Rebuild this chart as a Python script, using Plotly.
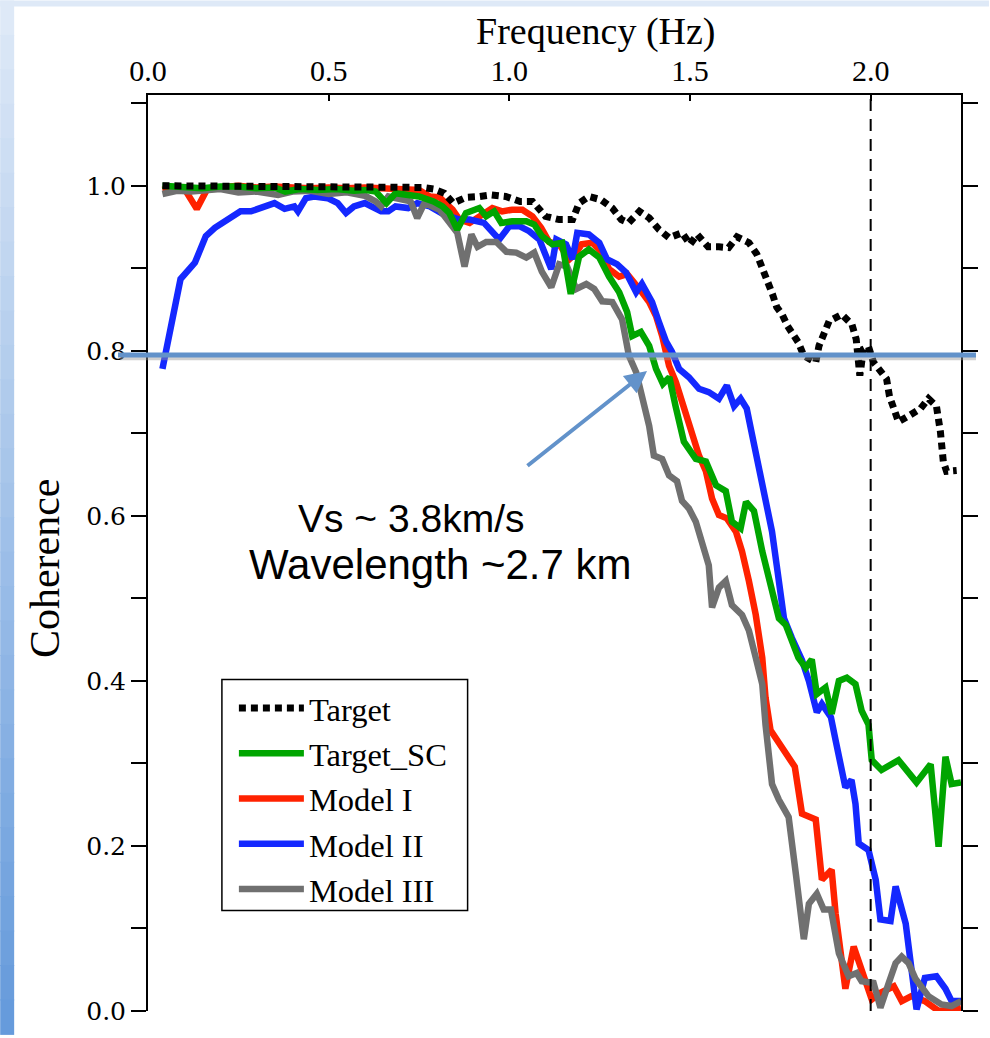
import plotly.graph_objects as go

# ---------------- data ----------------
target_f = [0.04, 0.1, 0.16, 0.22, 0.28, 0.34, 0.4, 0.46, 0.52, 0.58, 0.64, 0.7, 0.76, 0.79, 0.82, 0.845,
            0.88, 0.917, 0.95, 0.99, 1.03, 1.064, 1.10, 1.138, 1.175, 1.193, 1.22, 1.254, 1.285, 1.31, 1.33,
            1.36, 1.387, 1.414, 1.442, 1.478, 1.50, 1.52, 1.55, 1.58, 1.607, 1.63, 1.663, 1.685, 1.70, 1.715,
            1.728, 1.74, 1.755, 1.77, 1.785, 1.80, 1.815, 1.848, 1.857, 1.87, 1.885, 1.92, 1.948, 1.96, 1.97,
            1.98, 1.994, 2.008, 2.044, 2.052, 2.077, 2.105, 2.138, 2.16, 2.182, 2.193, 2.201, 2.21, 2.238]
target_v = [1.0, 1.0, 1.0, 1.0, 1.0, 1.0, 1.0, 0.999, 1.0, 0.999, 0.999, 0.999, 0.998, 0.996, 0.991, 0.979,
            0.986, 0.987, 0.989, 0.987, 0.981, 0.981, 0.963, 0.959, 0.959, 0.979, 0.987, 0.983, 0.973, 0.959, 0.955,
            0.969, 0.961, 0.947, 0.937, 0.943, 0.929, 0.941, 0.926, 0.926, 0.925, 0.938, 0.931, 0.917, 0.901, 0.887,
            0.869, 0.853, 0.844, 0.83, 0.82, 0.81, 0.794, 0.786, 0.806, 0.823, 0.836, 0.844, 0.832, 0.814, 0.77,
            0.802, 0.805, 0.786, 0.766, 0.745, 0.714, 0.721, 0.730, 0.742, 0.733, 0.702, 0.666, 0.654, 0.655]

sc_f = [0.04, 0.1, 0.15, 0.2, 0.25, 0.3, 0.35, 0.38, 0.42, 0.47, 0.52, 0.57, 0.6, 0.63, 0.66, 0.685, 0.72,
        0.75, 0.79, 0.815, 0.834, 0.856, 0.88, 0.917, 0.936, 0.958, 0.978, 1.008, 1.047, 1.069, 1.09, 1.119,
        1.146, 1.17, 1.193, 1.22, 1.249, 1.276, 1.304, 1.326, 1.34, 1.364, 1.387, 1.406, 1.425, 1.443, 1.46,
        1.483, 1.516, 1.544, 1.572, 1.599, 1.616, 1.64, 1.655, 1.677, 1.70, 1.727, 1.746, 1.765, 1.782, 1.80,
        1.82, 1.837, 1.851, 1.875, 1.892, 1.912, 1.934, 1.958, 1.975, 1.994, 2.003, 2.03, 2.077, 2.097, 2.127,
        2.166, 2.188, 2.207, 2.224, 2.25]
sc_v = [1.0, 0.999, 0.997, 0.999, 0.999, 0.997, 0.998, 0.993, 0.996, 0.995, 0.996, 0.994, 0.995, 0.993, 0.979,
        0.991, 0.989, 0.987, 0.981, 0.975, 0.967, 0.947, 0.967, 0.973, 0.963, 0.969, 0.955, 0.957, 0.957, 0.953,
        0.939, 0.929, 0.931, 0.869, 0.914, 0.923, 0.913, 0.890, 0.871, 0.847, 0.818, 0.823, 0.806, 0.778, 0.76,
        0.768, 0.733, 0.69, 0.669, 0.666, 0.637, 0.63, 0.593, 0.585, 0.617, 0.606, 0.557, 0.509, 0.476, 0.468,
        0.449, 0.428, 0.416, 0.426, 0.384, 0.392, 0.36, 0.40, 0.404, 0.396, 0.364, 0.347, 0.304, 0.292, 0.304,
        0.292, 0.277, 0.299, 0.199, 0.308, 0.275, 0.277]

m1_f = [0.04, 0.07, 0.10, 0.135, 0.165, 0.2, 0.25, 0.3, 0.35, 0.4, 0.45, 0.5, 0.55, 0.6, 0.65, 0.7, 0.75, 0.78,
        0.807, 0.843, 0.862, 0.89, 0.917, 0.953, 0.98, 1.008, 1.036, 1.064, 1.088, 1.11, 1.138, 1.166, 1.185,
        1.20, 1.23, 1.254, 1.276, 1.304, 1.326, 1.351, 1.367, 1.387, 1.406, 1.423, 1.442, 1.461, 1.478, 1.503,
        1.525, 1.544, 1.561, 1.58, 1.602, 1.627, 1.644, 1.663, 1.682, 1.70, 1.709, 1.723, 1.754, 1.79, 1.81,
        1.848, 1.865, 1.892, 1.903, 1.92, 1.93, 1.953, 1.975, 2.003, 2.027, 2.064, 2.086, 2.113, 2.15, 2.188,
        2.224, 2.25]
m1_v = [0.995, 0.998, 0.997, 0.972, 0.997, 0.999, 1.0, 0.998, 0.999, 0.998, 0.997, 0.998, 0.997, 0.998, 0.997,
        0.996, 0.995, 0.987, 0.986, 0.971, 0.959, 0.955, 0.963, 0.973, 0.969, 0.971, 0.971, 0.963, 0.949, 0.932,
        0.929, 0.911, 0.919, 0.929, 0.931, 0.92, 0.899, 0.890, 0.893, 0.881, 0.871, 0.859, 0.842, 0.818, 0.782,
        0.762, 0.738, 0.706, 0.673, 0.654, 0.621, 0.601, 0.597, 0.581, 0.557, 0.521, 0.480, 0.428, 0.38, 0.34,
        0.320, 0.296, 0.239, 0.232, 0.159, 0.171, 0.118, 0.058, 0.027, 0.078, 0.05, 0.014, 0.022, 0.030, 0.012,
        0.018, 0.012, 0.0, 0.002, 0.004]

m2_f = [0.04, 0.09, 0.13, 0.16, 0.185, 0.22, 0.256, 0.285, 0.315, 0.35, 0.378, 0.405, 0.415, 0.437, 0.46,
        0.497, 0.525, 0.548, 0.57, 0.60, 0.645, 0.665, 0.685, 0.72, 0.745, 0.78, 0.82, 0.862, 0.89, 0.93, 0.972,
        1.0, 1.028, 1.055, 1.083, 1.116, 1.13, 1.157, 1.175, 1.188, 1.22, 1.249, 1.27, 1.298, 1.323, 1.351,
        1.367, 1.395, 1.414, 1.434, 1.45, 1.47, 1.497, 1.525, 1.552, 1.58, 1.602, 1.622, 1.64, 1.657, 1.671,
        1.69, 1.709, 1.727, 1.74, 1.751, 1.76, 1.782, 1.81, 1.829, 1.851, 1.865, 1.89, 1.903, 1.92, 1.93, 1.947,
        1.958, 1.967, 1.994, 2.014, 2.027, 2.055, 2.069, 2.097, 2.127, 2.15, 2.182, 2.207, 2.224, 2.25]
m2_v = [0.778, 0.887, 0.907, 0.939, 0.949, 0.959, 0.969, 0.969, 0.973, 0.979, 0.972, 0.975, 0.969, 0.985, 0.987,
        0.985, 0.979, 0.967, 0.975, 0.979, 0.969, 0.969, 0.975, 0.973, 0.979, 0.975, 0.965, 0.959, 0.959, 0.955,
        0.935, 0.951, 0.951, 0.945, 0.935, 0.899, 0.935, 0.929, 0.911, 0.943, 0.941, 0.931, 0.911, 0.905, 0.895,
        0.871, 0.881, 0.859, 0.835, 0.811, 0.799, 0.778, 0.768, 0.754, 0.75, 0.742, 0.758, 0.733, 0.742, 0.730,
        0.700, 0.659, 0.621, 0.581, 0.540, 0.50, 0.476, 0.452, 0.425, 0.40, 0.362, 0.372, 0.356, 0.328, 0.287,
        0.271, 0.28, 0.251, 0.203, 0.195, 0.159, 0.111, 0.109, 0.151, 0.106, 0.002, 0.04, 0.042, 0.027, 0.012,
        0.012]

m3_f = [0.04, 0.08, 0.12, 0.16, 0.2, 0.25, 0.3, 0.36, 0.4, 0.45, 0.5, 0.55, 0.6, 0.63, 0.645, 0.665, 0.7,
        0.727, 0.745, 0.765, 0.807, 0.834, 0.856, 0.876, 0.895, 0.912, 0.936, 0.964, 0.992, 1.019, 1.047, 1.069,
        1.09, 1.116, 1.138, 1.16, 1.185, 1.213, 1.235, 1.257, 1.285, 1.312, 1.331, 1.351, 1.367, 1.387, 1.40,
        1.423, 1.442, 1.464, 1.478, 1.497, 1.516, 1.533, 1.552, 1.561, 1.58, 1.599, 1.616, 1.644, 1.663, 1.682,
        1.70, 1.709, 1.727, 1.746, 1.773, 1.793, 1.815, 1.829, 1.851, 1.87, 1.89, 1.912, 1.939, 1.961, 1.975,
        2.008, 2.027, 2.05, 2.069, 2.086, 2.105, 2.124, 2.16, 2.196, 2.224, 2.25]
m3_v = [0.99, 0.994, 0.993, 0.995, 0.996, 0.992, 0.993, 0.989, 0.993, 0.994, 0.99, 0.992, 0.988, 0.981, 0.975,
        0.987, 0.984, 0.981, 0.961, 0.979, 0.971, 0.957, 0.943, 0.902, 0.941, 0.926, 0.932, 0.932, 0.92, 0.919,
        0.913, 0.919, 0.896, 0.877, 0.905, 0.902, 0.875, 0.881, 0.875, 0.86, 0.859, 0.838, 0.794, 0.774, 0.745,
        0.709, 0.673, 0.669, 0.649, 0.642, 0.618, 0.609, 0.593, 0.569, 0.54, 0.489, 0.513, 0.521, 0.492, 0.48,
        0.461, 0.428, 0.396, 0.347, 0.275, 0.256, 0.235, 0.166, 0.087, 0.130, 0.142, 0.123, 0.123, 0.07, 0.042,
        0.046, 0.036, 0.034, 0.004, 0.034, 0.058, 0.066, 0.058, 0.039, 0.018, 0.008, 0.006, 0.012]

x_ticks = [0.0, 0.5, 1.0, 1.5, 2.0]
y_ticks = [0.0, 0.2, 0.4, 0.6, 0.8, 1.0]
threshold = 0.795
cutoff_freq = 2.0

for a, b in [(target_f, target_v), (sc_f, sc_v), (m1_f, m1_v), (m2_f, m2_v), (m3_f, m3_v)]:
    assert len(a) == len(b), (len(a), len(b))

# ---------------- geometry helpers ----------------
W, H = 990, 1038
L, R, T, B = 148, 28, 95, 23
PW, PH = W - L - R, H - T - B


def px(xp):
    return (xp - L) / PW


def py(yp):
    return (H - B - yp) / PH


SERIF = "Liberation Serif, Times New Roman, serif"
SANS = "Liberation Sans, Arial, sans-serif"
BLUE_ANN = "rgb(98,146,202)"

fig = go.Figure()

fig.add_trace(go.Scatter(x=m1_f, y=m1_v, mode="lines", name="Model I", legendrank=3,
                         line=dict(color="rgb(255,34,0)", width=6.5)))
fig.add_trace(go.Scatter(x=m2_f, y=m2_v, mode="lines", name="Model II", legendrank=4,
                         line=dict(color="rgb(20,40,255)", width=6.5)))
fig.add_trace(go.Scatter(x=m3_f, y=m3_v, mode="lines", name="Model III", legendrank=5,
                         line=dict(color="rgb(112,112,112)", width=6.5)))
fig.add_trace(go.Scatter(x=sc_f, y=sc_v, mode="lines", name="Target_SC", legendrank=2,
                         line=dict(color="rgb(0,165,0)", width=6.5)))
fig.add_trace(go.Scatter(x=target_f, y=target_v, mode="lines", name="Target", legendrank=1,
                         line=dict(color="black", width=7, dash="7px,5px")))

shapes = []
# slide background: left gradient strip and top band
nb = 30
for i in range(nb):
    t = i / (nb - 1)
    c = (int(222 - 120 * t), int(233 - 78 * t), int(247 - 27 * t))
    y0 = H * i / nb
    y1 = H * (i + 1) / nb + 1
    shapes.append(dict(type="rect", xref="paper", yref="paper", layer="below",
                       x0=px(0), x1=px(14), y0=py(y1), y1=py(y0),
                       fillcolor="rgb(%d,%d,%d)" % c, line=dict(width=0)))
shapes.append(dict(type="rect", xref="paper", yref="paper", layer="below",
                   x0=px(0), x1=px(W), y0=py(6), y1=py(0),
                   fillcolor="rgb(222,233,247)", line=dict(width=0)))
# vertical dashed line at 2.0 Hz
shapes.append(dict(type="line", xref="x", yref="paper", x0=cutoff_freq, x1=cutoff_freq, y0=0, y1=1,
                   line=dict(color="black", width=2, dash="12px,8px")))
# horizontal threshold line with soft shadow
shapes.append(dict(type="line", xref="paper", yref="y", x0=px(120), x1=px(977),
                   y0=threshold - 0.004, y1=threshold - 0.004,
                   line=dict(color="rgba(150,150,150,0.45)", width=4)))
shapes.append(dict(type="line", xref="paper", yref="y", x0=px(118), x1=px(977),
                   y0=threshold, y1=threshold,
                   line=dict(color=BLUE_ANN, width=5)))
# legend frame
shapes.append(dict(type="rect", xref="paper", yref="paper", layer="above",
                   x0=px(222), x1=px(468), y0=py(914), y1=py(682),
                   fillcolor="white", line=dict(color="black", width=1.5)))

annotations = [
    dict(text="Frequency (Hz)", xref="paper", yref="paper", x=px(597), y=py(31),
         xanchor="center", yanchor="middle", showarrow=False,
         font=dict(family=SERIF, size=38, color="black")),
    dict(text="Coherence", xref="paper", yref="paper", x=px(45), y=py(570),
         xanchor="center", yanchor="middle", showarrow=False, textangle=-90,
         font=dict(family=SERIF, size=42, color="black")),
    dict(text="", x=1.381, y=0.7756, xref="x", yref="y", showarrow=True,
         ax=-121, ay=96, arrowhead=2, arrowsize=1.1, arrowwidth=4, arrowcolor=BLUE_ANN),
    dict(text="Vs ~ 3.8km/s", xref="paper", yref="paper", x=px(412), y=py(520),
         xanchor="center", yanchor="middle", showarrow=False,
         font=dict(family=SANS, size=39, color="black")),
    dict(text="Wavelength ~2.7 km", xref="paper", yref="paper", x=px(440), y=py(567),
         xanchor="center", yanchor="middle", showarrow=False,
         font=dict(family=SANS, size=42, color="black")),
]

fig.update_layout(
    width=W, height=H,
    margin=dict(l=L, r=R, t=T, b=B, pad=0),
    paper_bgcolor="white", plot_bgcolor="white",
    showlegend=True,
    legend=dict(x=px(234), y=py(683), xanchor="left", yanchor="top",
                bgcolor="rgba(0,0,0,0)", borderwidth=0,
                font=dict(family=SERIF, size=32.5, color="black"),
                itemwidth=65, traceorder="normal"),
    shapes=shapes,
    annotations=annotations,
    xaxis=dict(range=[0, 2.25], side="top", tickvals=x_ticks, tickformat=".1f",
               ticks="inside", ticklen=6, tickwidth=2, tickcolor="black",
               showline=True, linewidth=2, linecolor="black", mirror=False,
               showgrid=False, zeroline=False,
               tickfont=dict(family=SERIF, size=30, color="black")),
    xaxis3=dict(range=[0, 2.25], overlaying="x", side="top", anchor="y", matches="x",
                showticklabels=False, tickvals=x_ticks, ticks="outside", ticklen=8, tickwidth=2,
                tickcolor="black", showline=False, showgrid=False, zeroline=False,
                minor=dict(dtick=0.25, tick0=0, ticks="outside", ticklen=5, tickwidth=2, tickcolor="black",
                           showgrid=False)),
    xaxis2=dict(range=[0, 2.25], overlaying="x", side="bottom", anchor="y", matches="x",
                showticklabels=False, ticks="outside", ticklen=15, tickwidth=2, tickcolor="black",
                dtick=0.25, tick0=0, showline=True, linewidth=2, linecolor="black",
                showgrid=False, zeroline=False),
    yaxis=dict(range=[0, 1.11], tickvals=y_ticks, tickformat=".1f",
               ticks="outside", ticklen=15, tickwidth=2, tickcolor="black",
               showline=True, linewidth=2, linecolor="black", mirror="ticks",
               showgrid=False, zeroline=False,
               tickfont=dict(family="DejaVu Serif, serif", size=25, color="black"),
               minor=dict(dtick=0.1, tick0=0, ticks="outside", ticklen=15, tickwidth=2, tickcolor="black",
                          showgrid=False)),
)

fig.write_html("out.html")
